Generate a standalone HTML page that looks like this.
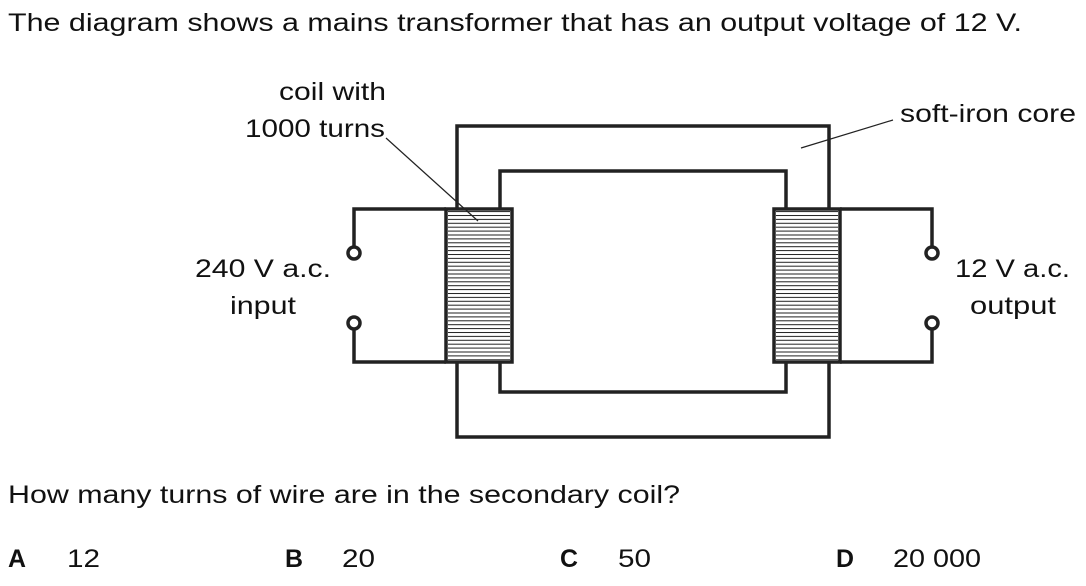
<!DOCTYPE html>
<html><head><style>
body{margin:0;width:1086px;height:581px;background:#fff;overflow:hidden}
svg text{font-family:"Liberation Sans",Arial,sans-serif;font-size:25px;fill:#111}
</style></head><body>
<svg width="1086" height="581" xmlns="http://www.w3.org/2000/svg">
<defs>
<pattern id="h" width="10" height="3.9" patternUnits="userSpaceOnUse">
<line x1="0" y1="1" x2="10" y2="1" stroke="#222" stroke-width="1"/>
</pattern>
</defs>
<text x="8" y="31" textLength="1014" lengthAdjust="spacingAndGlyphs">The diagram shows a mains transformer that has an output voltage of 12 V.</text>
<g fill="none" stroke="#222" stroke-width="3.5">
<path d="M457 209 V126 H829 V209 M457 362 V437 H829 V362"/>
<path d="M500 209 V171 H786 V209 M500 362 V392 H786 V362"/>
<path d="M446 209 H354 V246 M354 330 V362 H446"/>
<path d="M840 209 H932 V246 M932 330 V362 H840"/>
<circle cx="354" cy="253" r="6"/><circle cx="354" cy="323" r="6"/>
<circle cx="932" cy="253" r="6"/><circle cx="932" cy="323" r="6"/>
</g>
<rect x="448" y="211" width="62" height="149" fill="url(#h)"/>
<rect x="776" y="211" width="62" height="149" fill="url(#h)"/>
<g fill="none" stroke="#222" stroke-width="3.5">
<rect x="446" y="209" width="66" height="153"/>
<rect x="774" y="209" width="66" height="153"/>
</g>
<line x1="386" y1="138" x2="478" y2="221" stroke="#222" stroke-width="1.2"/>
<line x1="801" y1="148" x2="893" y2="120" stroke="#222" stroke-width="1.2"/>
<text x="279" y="100" textLength="107" lengthAdjust="spacingAndGlyphs">coil with</text>
<text x="245" y="137" textLength="140" lengthAdjust="spacingAndGlyphs">1000 turns</text>
<text x="900" y="122" textLength="176" lengthAdjust="spacingAndGlyphs">soft-iron core</text>
<text x="195" y="277" textLength="136" lengthAdjust="spacingAndGlyphs">240 V a.c.</text>
<text x="230" y="314" textLength="66" lengthAdjust="spacingAndGlyphs">input</text>
<text x="955" y="277" textLength="115" lengthAdjust="spacingAndGlyphs">12 V a.c.</text>
<text x="970" y="314" textLength="86" lengthAdjust="spacingAndGlyphs">output</text>
<text x="8" y="503" textLength="672" lengthAdjust="spacingAndGlyphs">How many turns of wire are in the secondary coil?</text>
<text x="8" y="567" font-weight="bold" textLength="18" lengthAdjust="spacingAndGlyphs">A</text><text x="67" y="567" textLength="33" lengthAdjust="spacingAndGlyphs">12</text>
<text x="285" y="567" font-weight="bold" textLength="18" lengthAdjust="spacingAndGlyphs">B</text><text x="342" y="567" textLength="33" lengthAdjust="spacingAndGlyphs">20</text>
<text x="560" y="567" font-weight="bold" textLength="18" lengthAdjust="spacingAndGlyphs">C</text><text x="618" y="567" textLength="33" lengthAdjust="spacingAndGlyphs">50</text>
<text x="836" y="567" font-weight="bold" textLength="18" lengthAdjust="spacingAndGlyphs">D</text><text x="893" y="567" textLength="88" lengthAdjust="spacingAndGlyphs">20 000</text>
</svg>
</body></html>
